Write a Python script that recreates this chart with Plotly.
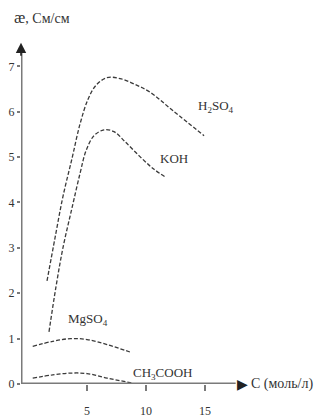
import plotly.graph_objects as go

# ---- data ----
h2so4_x = [1.61, 2.29, 2.97, 3.73, 4.41, 5.08, 5.76, 6.69, 7.80, 9.07, 10.34, 12.29, 14.92]
h2so4_y = [2.27, 3.22, 4.14, 4.97, 5.73, 6.27, 6.58, 6.75, 6.73, 6.60, 6.43, 6.02, 5.47]

koh_x = [1.78, 2.37, 2.97, 3.73, 4.41, 4.92, 5.59, 6.44, 7.29, 8.22, 9.49, 10.59, 11.69]
koh_y = [1.15, 2.14, 3.01, 3.88, 4.64, 5.14, 5.47, 5.60, 5.56, 5.34, 5.01, 4.75, 4.55]

mgso4_x = [0.4, 2.1, 3.6, 5.0, 6.7, 8.8]
mgso4_y = [0.83, 0.94, 1.00, 0.98, 0.87, 0.69]

ch3cooh_x = [0.4, 2.1, 3.6, 5.0, 6.7, 8.9]
ch3cooh_y = [0.13, 0.20, 0.24, 0.23, 0.13, 0.02]

x_ticks = [5, 10, 15]
y_ticks = [0, 1, 2, 3, 4, 5, 6, 7]

series = [
    ("H<sub>2</sub>SO<sub>4</sub>", h2so4_x, h2so4_y, (15.9, 6.12)),
    ("KOH", koh_x, koh_y, (12.4, 4.97)),
    ("MgSO<sub>4</sub>", mgso4_x, mgso4_y, (5.1, 1.42)),
    ("CH<sub>3</sub>COOH", ch3cooh_x, ch3cooh_y, (11.4, 0.24)),
]

FONT = "Liberation Serif"
AX = "#7a7a7a"
LINE = "#3a3a3a"

fig = go.Figure()
annotations = []
for name, xs, ys, (lx, ly) in series:
    fig.add_trace(go.Scatter(
        x=xs, y=ys, mode="lines", name=name,
        line=dict(color=LINE, width=1.3, dash="4px,2px", shape="spline", smoothing=1.0),
        hoverinfo="skip", showlegend=False))
    annotations.append(dict(x=lx, y=ly, xref="x", yref="y", text=name, showarrow=False,
                            font=dict(family=FONT, size=13, color="#333")))

x0 = -0.593  # position of the y-axis line

# axis lines
shapes = [
    dict(type="line", xref="x", yref="y", x0=x0, y0=0, x1=17.6, y1=0,
         line=dict(color=AX, width=3)),
    dict(type="line", xref="x", yref="y", x0=x0, y0=0, x1=x0, y1=7.3,
         line=dict(color=AX, width=3)),
]

# y-axis arrowhead
annotations.append(dict(x=x0, y=7.52, xref="x", yref="y", ax=x0, ay=7.2,
                        axref="x", ayref="y", showarrow=True, arrowhead=2,
                        arrowsize=1.3, arrowwidth=1.6, arrowcolor="#222", text=""))
# x-axis arrow + label
annotations.append(dict(x=17.55, y=0, xref="x", yref="y", xanchor="left", yanchor="middle",
                        text="\u25B6", showarrow=False,
                        font=dict(family="DejaVu Sans", size=14, color="#222")))
annotations.append(dict(x=18.7, y=0, xref="x", yref="y", xanchor="left", yanchor="middle",
                        text="C (моль/л)", showarrow=False,
                        font=dict(family=FONT, size=14, color="#333")))
# y-axis title (paper coordinates, above the plot)
annotations.append(dict(x=-0.03, y=1.034, xref="paper", yref="paper",
                        xanchor="left", yanchor="middle",
                        text="<span style='font-size:17px'>æ</span>, См/см", showarrow=False,
                        font=dict(family=FONT, size=14, color="#333")))

fig.update_layout(
    width=323, height=418,
    margin=dict(l=21, r=0, t=30, b=30),
    paper_bgcolor="white", plot_bgcolor="white",
    shapes=shapes, annotations=annotations,
    xaxis=dict(range=[-0.593, 25.0], showgrid=False, zeroline=False, showline=False,
               tickvals=x_ticks, ticktext=[str(v) for v in x_ticks],
               ticks="outside", ticklen=6, tickwidth=2, tickcolor=AX,
               ticklabelstandoff=10,
               tickfont=dict(family=FONT, size=12, color="#333")),
    yaxis=dict(range=[0, 7.8], showgrid=False, zeroline=False, showline=False,
               tickvals=y_ticks, ticktext=[str(v) for v in y_ticks],
               ticks="outside", ticklen=3, tickwidth=2, tickcolor=AX,
               tickfont=dict(family=FONT, size=12, color="#333")),
)

fig.write_html("out.html")
